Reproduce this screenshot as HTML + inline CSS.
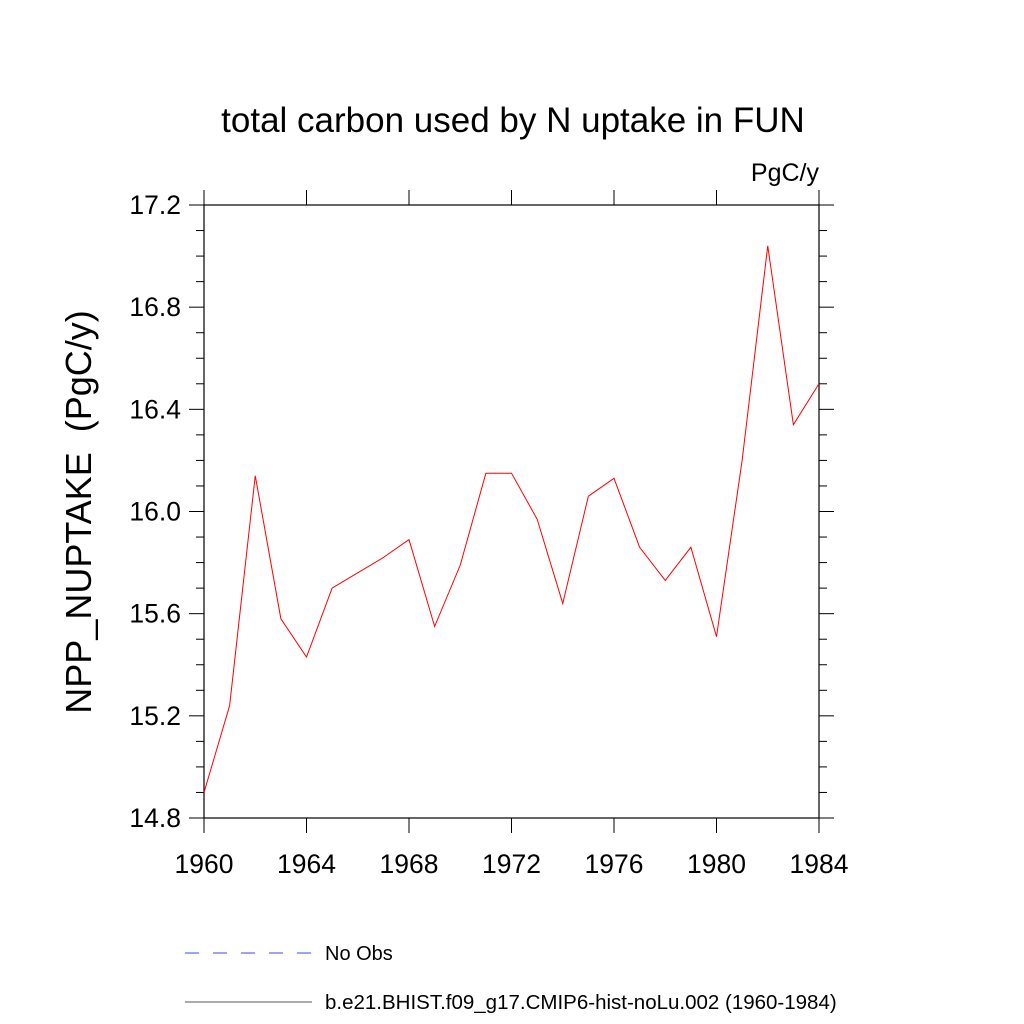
<!DOCTYPE html>
<html><head><meta charset="utf-8"><style>
body{margin:0;background:#fff}
svg{display:block;font-family:"Liberation Sans",sans-serif}
</style></head><body>
<svg id="c" width="1024" height="1024">
<text x="513" y="132" font-size="35" text-anchor="middle">total carbon used by N uptake in FUN</text>
<text x="819" y="181" font-size="25" text-anchor="end">PgC/y</text>
<text transform="translate(91,512) rotate(-90)" font-size="36" text-anchor="middle" style="white-space:pre">NPP_NUPTAKE  (PgC/y)</text>
<g id="ax"></g>
<line x1="185" y1="953" x2="312" y2="953" stroke="#4040ff" stroke-width="1" stroke-dasharray="14,14"/>
<text x="325" y="960" font-size="20">No Obs</text>
<line x1="185" y1="1002" x2="312" y2="1002" stroke="#555" stroke-width="1"/>
<text x="325" y="1009" font-size="20.5">b.e21.BHIST.f09_g17.CMIP6-hist-noLu.002 (1960-1984)</text>
</svg>
<script>
const years=[1960,1961,1962,1963,1964,1965,1966,1967,1968,1969,1970,1971,1972,1973,1974,1975,1976,1977,1978,1979,1980,1981,1982,1983,1984];
const values=[14.90,15.24,16.14,15.58,15.43,15.70,15.76,15.82,15.89,15.55,15.79,16.15,16.15,15.97,15.64,16.06,16.13,15.86,15.73,15.86,15.51,16.20,17.04,16.34,16.50];
const xTicks=[1960,1964,1968,1972,1976,1980,1984];
const yTicks=[14.8,15.2,15.6,16.0,16.4,16.8,17.2];
const X0=204,X1=819,Y0=818,Y1=205;
const xs=v=>X0+(v-1960)/(1984-1960)*(X1-X0);
const ys=v=>Y0-(v-14.8)/(17.2-14.8)*(Y0-Y1);
const NS='http://www.w3.org/2000/svg',g=document.getElementById('ax');
function mk(t,a){const e=document.createElementNS(NS,t);for(const k in a)e.setAttribute(k,a[k]);g.appendChild(e);return e;}
const fr=mk('rect',{x:X0,y:Y1,width:X1-X0,height:Y0-Y1,fill:'none',stroke:'#000','stroke-width':1.2});


for(let i=0;i<=24;i++){const v=14.8+i*0.1;const y=ys(v);const L=i%4===0?15:8;
 const a=mk('line',{x1:X0-L,y1:y,x2:X0,y2:y,stroke:'#000'});
 
 
 const b=mk('line',{x1:X1,y1:y,x2:X1+L,y2:y,stroke:'#000'});
 
 }
yTicks.forEach(v=>{const t=mk('text',{x:X0-23,y:ys(v)+9,'font-size':26.5,'text-anchor':'end'});t.textContent=v.toFixed(1);
 
 });
xTicks.forEach(v=>{const x=xs(v);
 const a=mk('line',{x1:x,y1:Y0,x2:x,y2:Y0+15,stroke:'#000'});
 
 
 const b=mk('line',{x1:x,y1:Y1-15,x2:x,y2:Y1,stroke:'#000'});
 
 
 const t=mk('text',{x:x,y:Y0+55,'font-size':26.5,'text-anchor':'middle'});t.textContent=v;
 
 });
const pl=mk('polyline',{points:years.map((y,i)=>xs(y)+','+ys(values[i])).join(' '),fill:'none',stroke:'#ff0000','stroke-width':1});


</script>
</body></html>
